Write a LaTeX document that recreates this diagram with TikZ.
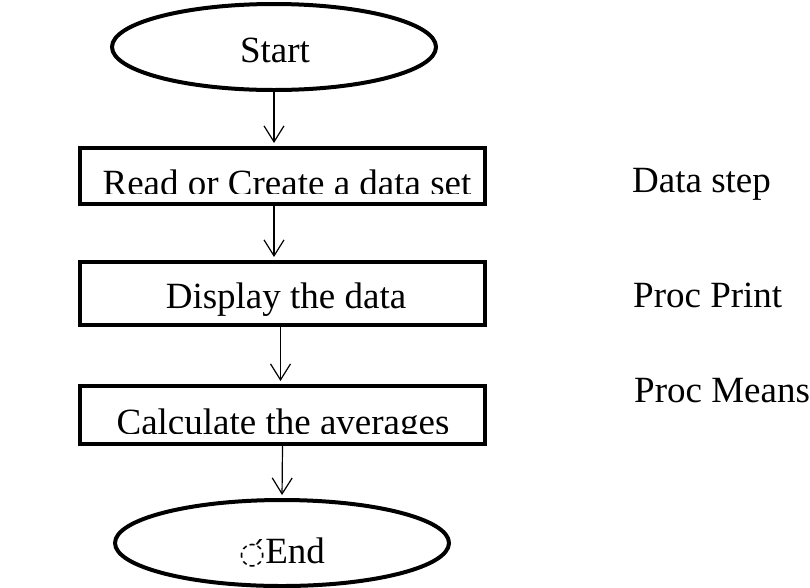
\documentclass[tikz,border=0pt]{standalone}
\usepackage{fontspec}
\setmainfont{Liberation Serif}
\newfontfamily\dejavu{DejaVu Sans}
\usetikzlibrary{arrows.meta, shapes.geometric}

\begin{document}
\begin{tikzpicture}[x=1pt,y=1pt,
  font=\fontsize{37}{44}\selectfont,
  term/.style={ellipse,draw,line width=4pt,inner sep=0pt},
  stepbox/.style={rectangle,draw,line width=4pt,minimum width=405,inner sep=0pt},
  txt/.style={anchor=base,inner sep=0pt},
  lbl/.style={anchor=base west,inner sep=0pt},
  arr/.style={line width=1.2pt,shorten >=3pt,-{Straight Barb[length=16pt,width=20pt,line width=1.2pt]}}]
\useasboundingbox (0,0) rectangle (810,-587);
%start and end
\node[term,minimum width=324,minimum height=86] (start) at (274,-47) {};
\node[txt] (starttxt) at (275,-62) {Start};
\node[term,minimum width=334,minimum height=86] (end) at (282,-543) {};
\node[txt] (endtxt) at (282,-563) {{\dejavu\fontsize{30}{34}\selectfont ◌́}End};
%steps
\node[stepbox,minimum height=56] (read) at (282.5,-176) {};
\node[stepbox,minimum height=63] (display) at (282.5,-293.5) {};
\node[stepbox,minimum height=58] (calc) at (282.5,-415) {};
\begin{scope}
\clip (85,-150) rectangle (480,-193);
\node[txt] (readtxt) at (287,-195) {Read or Create a data set};
\end{scope}
\node[txt] (displaytxt) at (286,-308) {Display the data};
\begin{scope}
\clip (85,-388) rectangle (480,-433);
\node[txt] (calctxt) at (283,-434) {Calculate the averages};
\end{scope}
%labels on the right
\node[lbl] (datastep) at (632,-192) {Data step};
\node[lbl] (procprint) at (633,-307) {Proc Print};
\node[lbl] (procmeans) at (634,-402) {Proc Means};
%arrows
\draw[arr] (start.south) -- (start.south |- read.north);
\draw[arr] (start.south |- read.south) -- (start.south |- display.north);
\draw[arr] ([xshift=-2]display.south) -- ([xshift=-2]display.south |- calc.north);
\draw[arr] (calc.south) -- (end.north);
\end{tikzpicture}
\end{document}
